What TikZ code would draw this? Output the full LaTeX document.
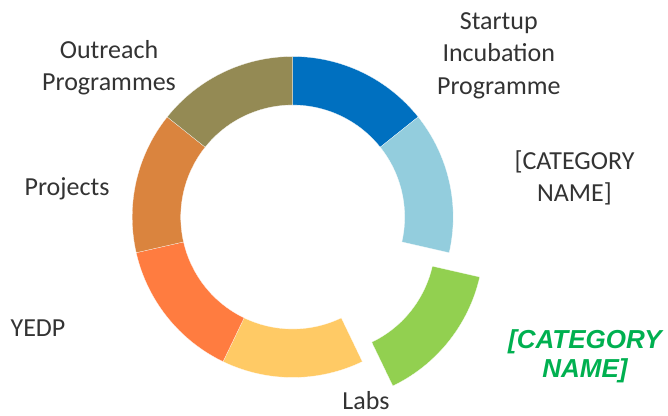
\documentclass[tikz,border=0pt]{standalone}
\usepackage{fontspec}
\setmainfont{Carlito}
\newfontfamily\arialfont{Liberation Sans}
\usepackage{xcolor}

\definecolor{labgray}{HTML}{333333}
\definecolor{segblue}{HTML}{0070C0}
\definecolor{seglight}{HTML}{93CDDD}
\definecolor{seggreen}{HTML}{92D050}
\definecolor{segyellow}{HTML}{FFCA65}
\definecolor{segorange}{HTML}{FF7C40}
\definecolor{segdark}{HTML}{DA843E}
\definecolor{segolive}{HTML}{948A54}
\definecolor{namegreen}{HTML}{00B050}

\begin{document}
\begin{tikzpicture}[
            x = 1pt, y = 1pt, % one unit per pixel
            label/.style = {anchor = base, align = center, text = labgray,
                font = \fontsize{26}{32.5}\selectfont},
            seg/.style = {draw = white, line width = 0.2pt}
        ]

        \useasboundingbox (0,0) rectangle (668,415);
        \coordinate (c) at (292.7,198);

        % ring, clockwise from the top
        \foreach \col/\s/\e in {segblue/90/38.571, seglight/38.571/-12.857,
            segyellow/-64.286/-115.714, segorange/-115.714/-167.143,
            segdark/-167.143/-218.571, segolive/141.429/90}
        {
            \fill[seg, fill=\col] (c) ++(\s:160.5) arc[start angle=\s, end angle=\e, radius=160.5]
                -- ([shift={(\e:112)}]c) arc[start angle=\e, end angle=\s, radius=112] -- cycle;
        }

        % pulled out piece
        \coordinate (g) at ([shift={(-38.571:39)}]c);
        \fill[seg, fill=seggreen] (g) ++(-12.857:160.5) arc[start angle=-12.857, end angle=-64.286, radius=160.5]
            -- ([shift={(-64.286:112)}]g) arc[start angle=-64.286, end angle=-12.857, radius=112] -- cycle;

        % base = baseline of the last line
        \node[label] (outreach) at (109,324) {Outreach\\Programmes};
        \node[label] (projects) at (67,219.3) {Projects};
        \node[label] (yedp) at (38,78.3) {YEDP};
        \node[label] (labs) at (366,5.7) {Labs};
        \node[label] (startup) at (498.8,320.5) {Startup\\Incubation\\Programme};
        \node[label] (catname) at (574.5,213.3) {[CATEGORY\\NAME]};
        \node[label, text=namegreen, font=\arialfont\bfseries\itshape\fontsize{26}{29.4}\selectfont]
            (labsname) at (585,37.3) {[CATEGORY\\NAME]};
    \end{tikzpicture}
\end{document}
